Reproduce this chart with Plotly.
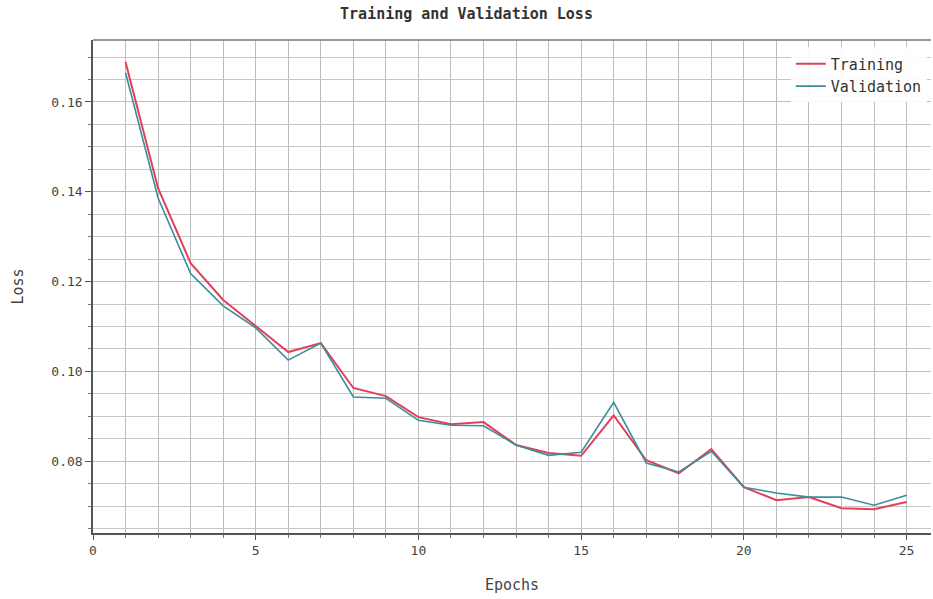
import plotly.graph_objects as go

epochs = list(range(1, 26))
training = [0.1689, 0.1408, 0.1241, 0.1159, 0.1101, 0.1043, 0.1063, 0.0963, 0.0945,
            0.0898, 0.0882, 0.0887, 0.0836, 0.0818, 0.0812, 0.0902, 0.0802, 0.0773,
            0.0827, 0.0742, 0.0713, 0.0720, 0.0695, 0.0693, 0.0709]
validation = [0.1665, 0.1386, 0.1218, 0.1146, 0.1097, 0.1025, 0.1063, 0.0943, 0.0940,
              0.0891, 0.0880, 0.0879, 0.0836, 0.0813, 0.0820, 0.0931, 0.0796, 0.0776,
              0.0822, 0.0742, 0.0729, 0.0720, 0.0720, 0.0702, 0.0724]

FONT = "DejaVu Sans Mono"
fig = go.Figure()
fig.add_trace(go.Scatter(x=epochs, y=training, mode="lines", name="Training",
                         line=dict(color="#e2405a", width=2)))
fig.add_trace(go.Scatter(x=epochs, y=validation, mode="lines", name="Validation",
                         line=dict(color="#3a8d9b", width=1.6)))

fig.update_layout(
    width=933, height=599,
    margin=dict(l=93, r=2, t=40, b=66),
    paper_bgcolor="white", plot_bgcolor="white",
    font=dict(family=FONT, size=12, color="#444"),
    title=dict(text="<b>Training and Validation Loss</b>", x=0.5, xanchor="center",
               y=0.977, yanchor="middle", font=dict(family=FONT, size=15, color="#333")),
    legend=dict(x=0.995, y=0.985, xanchor="right", yanchor="top",
                bgcolor="rgba(255,255,255,0.9)", font=dict(family=FONT, size=15, color="#333")),
    showlegend=True,
)
fig.update_xaxes(
    range=[0, 25.75], tickmode="linear", tick0=0, dtick=5,
    showgrid=True, gridcolor="#bdbdbd", gridwidth=1,
    ticks="outside", ticklen=5, tickcolor="#555",
    showline=True, linecolor="#555", linewidth=1.5, mirror=False,
    zeroline=False,
    minor=dict(tick0=0, dtick=1, showgrid=True, gridcolor="#bdbdbd",
               ticks="outside", ticklen=3, tickcolor="#777"),
    title=dict(text="Epochs", font=dict(family=FONT, size=15, color="#444"), standoff=22),
    tickfont=dict(size=13, color="#444"),
)
fig.update_yaxes(
    range=[0.064, 0.1738], tickmode="linear", tick0=0.0, dtick=0.02, tickformat=".2f",
    showgrid=True, gridcolor="#bdbdbd", gridwidth=1,
    ticks="outside", ticklen=6, tickcolor="#555",
    showline=True, linecolor="#555", linewidth=1.5,
    zeroline=False,
    minor=dict(tick0=0.0, dtick=0.005, showgrid=True, gridcolor="#c6c6c6",
               ticks="outside", ticklen=3, tickcolor="#777"),
    title=dict(text="Loss", font=dict(family=FONT, size=15, color="#444"), standoff=24),
    tickfont=dict(size=13, color="#444"),
)
# top border
fig.add_shape(type="line", xref="paper", yref="paper", x0=0, x1=1, y0=1, y1=1,
              line=dict(color="#777", width=1.5))
fig.write_html("out.html")
